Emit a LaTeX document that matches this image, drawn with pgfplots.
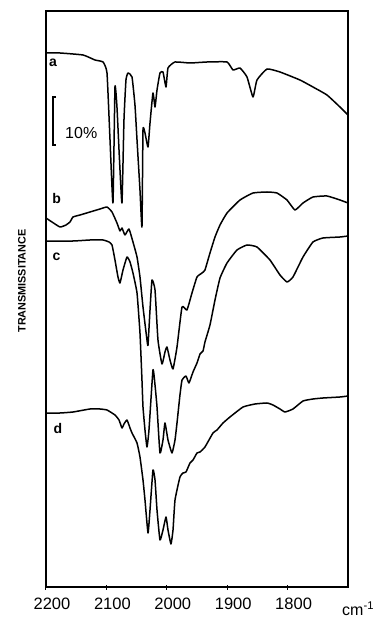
\documentclass[border=0pt]{standalone}
\usepackage{pgfplots}
\pgfplotsset{compat=1.18}
\usepackage{fontspec}
\setmainfont{Liberation Sans}
\begin{document}
\begin{tikzpicture}
\path[use as bounding box] (0,0) rectangle (377pt,619pt);
\begin{axis}[
  at={(46pt,32pt)}, anchor=south west,
  scale only axis, width=302pt, height=576pt,
  xmin=1700, xmax=2200, x dir=reverse,
  ymin=0, ymax=576,
  xtick={2200,2100,2000,1900,1800},
  xticklabels={2200,2100,2000,1900,1800},
  ytick=\empty,
  xtick pos=bottom,
  tick align=center,
  major tick length=5pt,
  tick style={line width=1pt, black},
  axis line style={line width=1.1pt},
  xticklabel style={font=\fontsize{16.5}{18}\selectfont, xshift=6pt, yshift=-5pt},
  clip=false,
  every axis plot/.append style={line width=1.5pt, black, line join=round, smooth, tension=0.25},
]
% curve a
\addplot[mark=none] coordinates {
(2200,534) (2176.8,534) (2138.7,532) (2118.9,527) (2105.6,525) (2099,514)
(2094,447) (2089.1,384) (2085.8,500) (2082.5,480) (2078.3,427) (2074.2,384)
(2070.9,467) (2067.6,507) (2064.2,514) (2057.6,510) (2052.7,482) (2049.3,447)
(2044.4,397) (2041.1,360) (2039.4,457) (2036.1,454) (2031.1,440) (2027.8,464)
(2022.9,494) (2019.5,480) (2016.2,497) (2011.3,514) (2006.3,515) (2001.3,500)
(1998,519) (1986.4,525) (1961.6,524) (1933.5,525) (1900.3,525) (1890.4,517)
(1878.8,519) (1867.2,510) (1857.3,490) (1850.7,507) (1834.1,518) (1812.6,515)
(1779.5,507) (1758,500) (1734.8,492) (1713.3,480) (1700,472)
};
% curve b
\addplot[mark=none] coordinates {
(2200,369) (2190.1,365) (2176.8,360) (2166.9,362) (2160.3,365) (2155.3,370)
(2143.7,372) (2127.2,375) (2110.6,378) (2099,380) (2090.7,375) (2082.5,364)
(2077.5,356) (2074.2,359) (2069.2,352) (2062.6,358) (2056,345) (2049.3,330)
(2044.4,310) (2039.4,280) (2032.8,247) (2031.1,242) (2027.8,277) (2024.5,307)
(2019.5,297) (2014.6,247) (2008,223) (2003,235) (1999.7,240) (1994.7,227)
(1989.7,218) (1983.1,240) (1974.8,280) (1966.6,277) (1958.3,294) (1950,310)
(1941.7,314) (1936.8,317) (1928.5,334) (1920.2,350) (1911.9,362) (1900.3,374)
(1878.8,387) (1857.3,394) (1834.1,395) (1817.6,394) (1801,387) (1787.8,377)
(1774.5,384) (1758,390) (1734.8,391) (1713.3,387) (1700,384)
};
% curve c
\addplot[mark=none] coordinates {
(2200,346) (2155.3,346) (2127.2,347) (2105.6,347) (2095.7,345) (2090.7,342)
(2085.8,327) (2080.8,310) (2077.5,304) (2072.5,317) (2065.9,330) (2060.9,325)
(2056,314) (2049.3,294) (2044.4,254) (2041.1,207) (2039.4,180) (2036.1,157)
(2032.8,140) (2029.5,157) (2022.9,217) (2019.5,202) (2016.2,180) (2011.3,134)
(2006.3,147) (2003,164) (1998,147) (1991.4,134) (1986.4,147) (1983.1,164)
(1978.2,192) (1974.8,207) (1968.2,211) (1963.3,204) (1956.6,215) (1950,224)
(1945,233) (1940,236) (1936.8,245) (1928.5,262) (1920.2,287) (1911.9,309)
(1900.3,324) (1883.8,337) (1867.2,342) (1850.7,340) (1829.2,327) (1812.6,312)
(1801,305) (1791.1,310) (1774.5,330) (1758,345) (1741.4,349) (1713.3,350)
(1700,351)
};
% curve d
\addplot[mark=none] coordinates {
(2200,174) (2176.8,174) (2155.3,175) (2127.2,178) (2110.6,178) (2099,177)
(2085.8,172) (2079.1,167) (2074.2,159) (2070.9,163) (2065.9,167) (2060.9,159)
(2057.6,154) (2049.3,144) (2044.4,130) (2039.4,107) (2036.1,87) (2031.1,54)
(2027.8,77) (2022.9,117) (2019.5,107) (2016.2,77) (2011.3,47) (2006.3,57)
(2001.3,70) (1998,57) (1993.1,43) (1989.7,57) (1986.4,87) (1978.2,110)
(1973.2,114) (1968.2,115) (1961.6,124) (1956.6,127) (1950,134) (1945,135)
(1936.8,140) (1923.5,154) (1916.9,157) (1906.9,164) (1895.4,170) (1873.8,180)
(1854,183) (1834.1,184) (1824.2,182) (1812.6,178) (1804.3,175) (1791.1,178)
(1774.5,186) (1758,188) (1741.4,189) (1713.3,190) (1700,191)
};
% trace labels
\node[font=\fontsize{14}{16}\selectfont\bfseries] at (axis cs:2188.4,524) {a};
\node[font=\fontsize{14}{16}\selectfont\bfseries] at (axis cs:2182.4,389) {b};
\node[font=\fontsize{14}{16}\selectfont\bfseries] at (axis cs:2182.4,330) {c};
\node[font=\fontsize{14}{16}\selectfont\bfseries] at (axis cs:2180.1,159) {d};
% 10% scale bar
\draw[line width=1.1pt] ([xshift=3pt]axis cs:2188.4,490) -- (axis cs:2188.4,490)
  -- (axis cs:2188.4,442) -- ([xshift=3pt]axis cs:2188.4,442);
\node[anchor=west, font=\fontsize{16}{18}\selectfont, inner sep=0pt] at (axis cs:2168.5,454) {10\%};
\end{axis}
\node[rotate=90, font=\fontsize{10.8}{12}\selectfont\bfseries] at (22pt,338pt) {TRANSMISSITANCE};
\node[anchor=west, inner sep=0pt, font=\fontsize{16}{18}\selectfont] at (342pt,10pt) {cm\textsuperscript{-1}};
\end{tikzpicture}
\end{document}
